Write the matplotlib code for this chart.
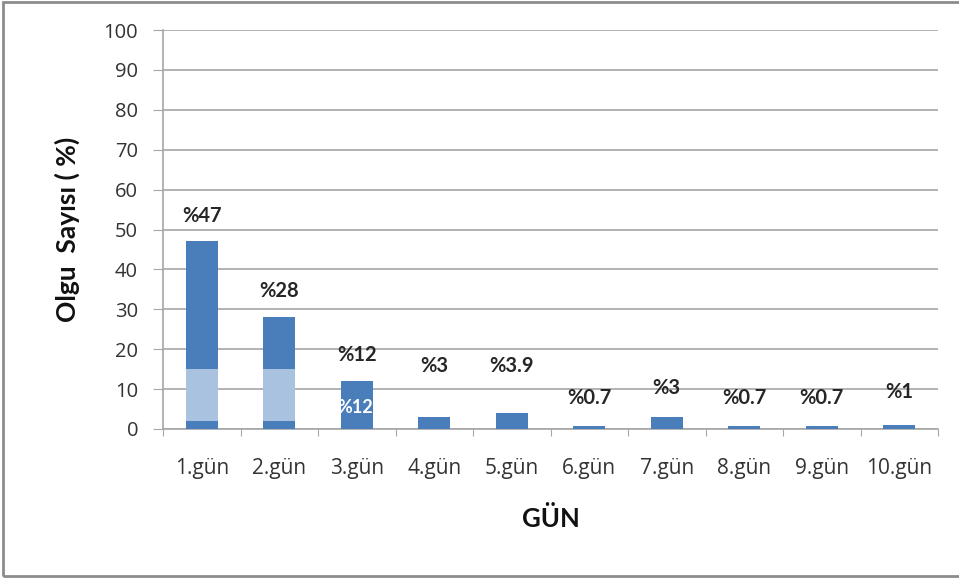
import numpy as np
import matplotlib.pyplot as plt
from matplotlib.patches import Rectangle

plt.rcParams['font.family'] = ['Lato', 'DejaVu Sans']

days = ['1.gün', '2.gün', '3.gün', '4.gün', '5.gün',
        '6.gün', '7.gün', '8.gün', '9.gün', '10.gün']
percent = [47, 28, 12, 3, 3.9, 0.7, 3, 0.7, 0.7, 1]
percent_labels = ['%47', '%28', '%12', '%3', '%3.9', '%0.7', '%3', '%0.7', '%0.7', '%1']
# lighter inner band on the first two bars (from, to)
band_low = [2, 2]
band_high = [15, 15]

BAR = '#4A7EBB'
LIGHT = '#A9C2E0'
GRID = '#A6A6A6'
TICKFONT = ['Open Sans', 'DejaVu Sans']

fig = plt.figure(figsize=(9.59, 5.8), dpi=100)
ax = fig.add_axes([163 / 959, 1 - 429 / 580, 775 / 959, 399 / 580])

x = np.arange(len(days))
bars = ax.bar(x, percent, width=0.41, color=BAR, zorder=3)
for i, (lo, hi) in enumerate(zip(band_low, band_high)):
    ax.bar(x[i], hi - lo, bottom=lo, width=0.41, color=LIGHT, zorder=4)

# value labels; small bars get theirs pushed up a bit
for i, (v, lab) in enumerate(zip(percent, percent_labels)):
    y = v + 6.5 if v >= 10 else max(v + 6, 7.8)
    if i in (3, 4):
        y = 15.7
    elif i == 6:
        y = 10.3
    elif i == 9:
        y = 9.3
    ax.text(x[i], y, lab, ha='center', va='center', fontsize=14.5,
            fontweight='bold', color='#262626', zorder=5)
inner = ax.text(x[2] - 0.02, 5.3, '%12', ha='center', va='center', fontsize=13,
                fontweight='bold', color='white', zorder=5)
inner.set_clip_path(bars[2])

ax.set_xlim(-0.5, len(days) - 0.5)
ax.set_ylim(0, 100)
ax.set_yticks(np.arange(0, 101, 10))
ax.yaxis.grid(True, color=GRID, lw=1.2, zorder=0)
ax.set_axisbelow(True)

ax.set_xticks(np.arange(-0.5, len(days), 1))
ax.set_xticklabels([])
ax.set_xticks(x, minor=True)
ax.set_xticklabels(days, minor=True, fontsize=15, color='#333333',
                   family=TICKFONT)
ax.tick_params(axis='x', which='major', length=5, color=GRID, direction='out')
ax.tick_params(axis='x', which='minor', length=0, pad=21)
ax.tick_params(axis='y', length=7, color=GRID, labelsize=14.5,
               labelcolor='#333333', pad=11)
for t in ax.get_yticklabels():
    t.set_family(TICKFONT)

for s in ('top', 'right'):
    ax.spines[s].set_visible(False)
ax.spines['left'].set_color(GRID)
ax.spines['bottom'].set_color(GRID)
ax.spines['left'].set_linewidth(1.2)
ax.spines['bottom'].set_linewidth(1.2)

ax.set_xlabel('GÜN', fontsize=18.5, fontweight='bold', labelpad=19, color='#111111')
ax.set_ylabel('Olgu  Sayısı ( %)', fontsize=19, fontweight='bold',
              labelpad=17, color='#111111')

# outer chart frame
fig.patches.append(Rectangle((3 / 959, 4 / 580), 960 / 959, 574 / 580,
                             transform=fig.transFigure, fill=False,
                             ec='#8C8C8C', lw=2))

fig.savefig('out.png', dpi=100)
